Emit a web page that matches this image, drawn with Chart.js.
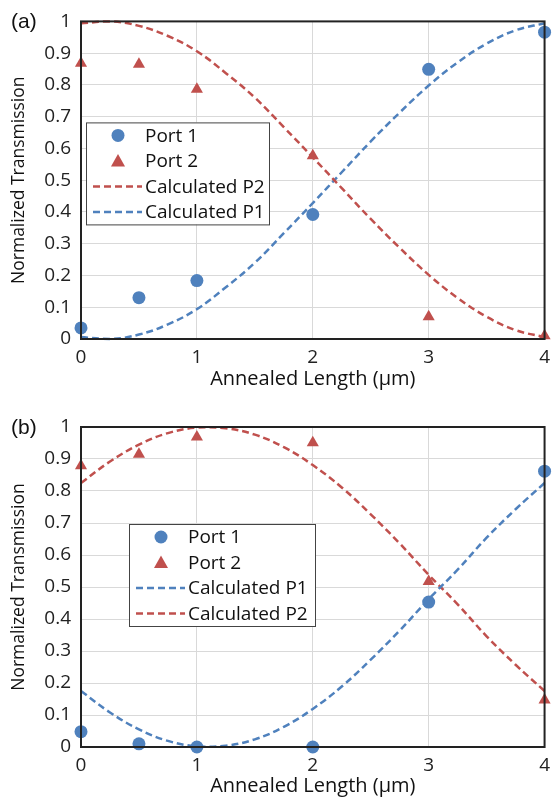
<!DOCTYPE html>
<html>
<head>
<meta charset="utf-8">
<script src="https://cdn.jsdelivr.net/npm/chart.js@4.4.1/dist/chart.umd.min.js"></script>
<style>
  body { margin: 0; background: #fff; }
  .panel { position: relative; width: 557px; }
  .tag { position: absolute; left: 11px; font: 21px "Liberation Sans", Arial, sans-serif; color: #111; }
</style>
</head>
<body>
<div class="panel" style="height:400px">
  <canvas id="chartA" width="557" height="400"></canvas>
  <div class="tag" style="top:9px">(a)</div>
</div>
<div class="panel" style="height:398px">
  <canvas id="chartB" width="557" height="398"></canvas>
  <div class="tag" style="top:15px">(b)</div>
</div>
<script>
// measured points
const portX = [0, 0.5, 1, 2, 3, 4];
const aPort1 = [0.035, 0.13, 0.184, 0.392, 0.849, 0.966];
const aPort2 = [0.868, 0.865, 0.786, 0.577, 0.07, 0.01];
const bPort1 = [0.048, 0.01, 0, 0, 0.453, 0.862];
const bPort2 = [0.879, 0.915, 0.969, 0.951, 0.517, 0.147];

// calculated curves
const curveX = [0, 0.25, 0.5, 0.75, 1, 1.25, 1.5, 1.75, 2, 2.25, 2.5, 2.75, 3, 3.25, 3.5, 3.75, 4];
const aCalcP2 = [0.994, 1.0, 0.986, 0.954, 0.906, 0.837, 0.76, 0.667, 0.572, 0.475, 0.378, 0.287, 0.202, 0.129, 0.07, 0.028, 0.006];
const aCalcP1 = [0.006, 0.0, 0.014, 0.046, 0.094, 0.163, 0.24, 0.333, 0.428, 0.525, 0.622, 0.713, 0.798, 0.871, 0.93, 0.972, 0.994];
const bCalcP2 = [0.825, 0.892, 0.945, 0.981, 0.998, 0.996, 0.976, 0.937, 0.881, 0.811, 0.727, 0.636, 0.538, 0.446, 0.346, 0.257, 0.175];
const bCalcP1 = [0.175, 0.108, 0.055, 0.019, 0.002, 0.004, 0.024, 0.063, 0.119, 0.189, 0.273, 0.364, 0.462, 0.554, 0.654, 0.743, 0.825];

const BLUE = "#4f81bd";
const RED = "#c0504d";
const FONT = "'Open Sans', 'Noto Sans', sans-serif";

function pts(xs, ys) {
  return xs.map((x, i) => ({ x: x, y: ys[i] }));
}

function portSet(label, ys, color, style) {
  return {
    label: label,
    data: pts(portX, ys),
    showLine: false,
    pointStyle: style,
    pointRadius: style === "triangle" ? 7 : 6.5,
    backgroundColor: color,
    borderColor: color,
    borderWidth: 0,
    clip: false,
  };
}

function calcSet(label, ys, color) {
  return {
    label: label,
    data: pts(curveX, ys),
    showLine: true,
    borderColor: color,
    borderWidth: 2.5,
    borderDash: [7, 4],
    pointRadius: 0,
    tension: 0.4,
    fill: false,
    clip: false,
  };
}

// frame + legend box drawn inside the plot area
const frameLegend = {
  id: "frameLegend",
  afterDatasetsDraw(chart, args, opts) {
    const ctx = chart.ctx;
    const a = chart.chartArea;
    ctx.save();
    ctx.strokeStyle = "#222";
    ctx.lineWidth = 2;
    ctx.strokeRect(a.left, a.top, a.right - a.left, a.bottom - a.top);

    const bx = a.left + opts.x, by = a.top + opts.y;
    const bw = opts.w, bh = 102;
    ctx.fillStyle = "#fff";
    ctx.fillRect(bx, by, bw, bh);
    ctx.strokeStyle = "#444";
    ctx.lineWidth = 1;
    ctx.strokeRect(bx + 0.5, by + 0.5, bw, bh);

    ctx.font = "19px " + FONT;
    ctx.textBaseline = "middle";
    chart.data.datasets.forEach((ds, i) => {
      const cy = by + 13 + i * 25.5;
      if (ds.showLine) {
        ctx.strokeStyle = ds.borderColor;
        ctx.lineWidth = 2.5;
        ctx.setLineDash([7, 4]);
        ctx.beginPath();
        ctx.moveTo(bx + 7, cy);
        ctx.lineTo(bx + 56, cy);
        ctx.stroke();
        ctx.setLineDash([]);
      } else {
        ctx.fillStyle = ds.backgroundColor;
        ctx.beginPath();
        if (ds.pointStyle === "triangle") {
          ctx.moveTo(bx + 32, cy - 7);
          ctx.lineTo(bx + 39, cy + 5.5);
          ctx.lineTo(bx + 25, cy + 5.5);
          ctx.closePath();
        } else {
          ctx.arc(bx + 32, cy, 6.5, 0, Math.PI * 2);
        }
        ctx.fill();
      }
      ctx.fillStyle = "#111";
      ctx.fillText(ds.label, bx + 59, cy + 1);
    });
    ctx.restore();
  },
};

function makeChart(id, datasets, legendPos, pad, xHeight) {
  return new Chart(document.getElementById(id), {
    type: "scatter",
    data: { datasets: datasets },
    options: {
      responsive: false,
      animation: false,
      layout: { padding: pad },
      plugins: {
        legend: { display: false },
        tooltip: { enabled: false },
        frameLegend: legendPos,
      },
      scales: {
        x: {
          type: "linear",
          min: 0,
          max: 4,
          afterFit: (s) => { s.height = xHeight; },
          ticks: { stepSize: 1, padding: 7, color: "#222", font: { family: FONT, size: 19 } },
          grid: { color: "#d9d9d9", drawTicks: false },
          border: { display: false },
          title: {
            display: true,
            text: "Annealed Length (\u00b5m)",
            color: "#111",
            font: { family: FONT, size: 20 },
            padding: { top: 0, bottom: 0 },
          },
        },
        y: {
          min: 0,
          max: 1,
          afterFit: (s) => { s.width = 81; },
          ticks: {
            stepSize: 0.1,
            padding: 10,
            color: "#222",
            font: { family: FONT, size: 19 },
            callback: (v) => String(Number(v.toFixed(1))),
          },
          grid: { color: "#d9d9d9", drawTicks: false },
          border: { display: false },
          title: {
            display: true,
            text: "Normalized Transmission",
            color: "#111",
            font: { family: FONT, size: 17.5 },
            padding: { top: 9, bottom: 0 },
          },
        },
      },
    },
    plugins: [frameLegend],
  });
}

makeChart(
  "chartA",
  [
    portSet("Port 1", aPort1, BLUE, "circle"),
    portSet("Port 2", aPort2, RED, "triangle"),
    calcSet("Calculated P2", aCalcP2, RED),
    calcSet("Calculated P1", aCalcP1, BLUE),
  ],
  { x: 5, y: 101, w: 183 },
  { left: 0, right: 7, top: 20, bottom: 9 },
  52
);

makeChart(
  "chartB",
  [
    portSet("Port 1", bPort1, BLUE, "circle"),
    portSet("Port 2", bPort2, RED, "triangle"),
    calcSet("Calculated P1", bCalcP1, BLUE),
    calcSet("Calculated P2", bCalcP2, RED),
  ],
  { x: 48, y: 97, w: 186 },
  { left: 0, right: 7, top: 27, bottom: 0 },
  51
);
</script>
</body>
</html>
